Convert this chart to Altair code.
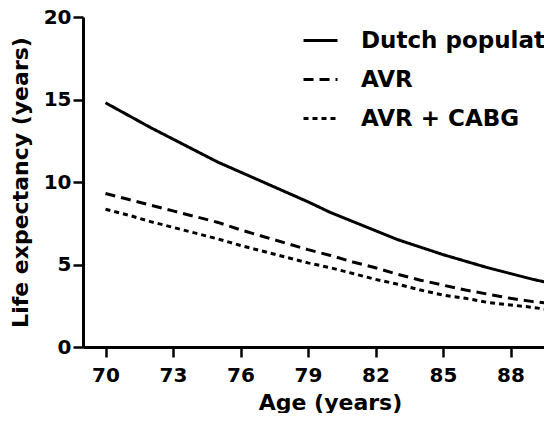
import altair as alt
import pandas as pd

ages = [70, 71, 72, 73, 74, 75, 76, 77, 78, 79, 80, 81, 82, 83, 84, 85, 86, 87, 88, 89, 90]
dutch = [14.8, 14.05, 13.3, 12.6, 11.9, 11.2, 10.6, 10.0, 9.4, 8.8, 8.15, 7.6, 7.05, 6.5, 6.05, 5.6, 5.2, 4.8, 4.45, 4.1, 3.8]
avr = [9.3, 8.95, 8.6, 8.25, 7.9, 7.55, 7.1, 6.7, 6.3, 5.9, 5.55, 5.15, 4.8, 4.4, 4.05, 3.75, 3.45, 3.2, 2.95, 2.75, 2.6]
avr_cabg = [8.35, 8.0, 7.6, 7.25, 6.9, 6.55, 6.15, 5.8, 5.45, 5.1, 4.8, 4.45, 4.1, 3.8, 3.45, 3.15, 2.95, 2.7, 2.55, 2.4, 2.2]

series_names = ["Dutch population", "AVR", "AVR + CABG"]
x_ticks = [70, 73, 76, 79, 82, 85, 88]
y_ticks = [0, 5, 10, 15, 20]

rows = []
for name, vals in zip(series_names, [dutch, avr, avr_cabg]):
    for a, v in zip(ages, vals):
        rows.append({"age": a, "le": v, "series": name})
df = pd.DataFrame(rows)

FONT = "DejaVu Sans"

chart = (
    alt.Chart(df)
    .mark_line(color="black", strokeWidth=3, clip=True)
    .encode(
        x=alt.X(
            "age:Q",
            scale=alt.Scale(domain=[69, 91], range=[0, 495], nice=False, zero=False),
            axis=alt.Axis(
                values=x_ticks,
                title="Age (years)",
                titleX=247,
                titleY=62,
                titleBaseline="alphabetic",
                titleAlign="center",
            ),
        ),
        y=alt.Y(
            "le:Q",
            scale=alt.Scale(domain=[0, 20], nice=False),
            axis=alt.Axis(
                values=y_ticks,
                title="Life expectancy (years)",
                titleX=-56,
                titleY=165,
                titleAngle=270,
                titleBaseline="alphabetic",
                titleAlign="center",
            ),
        ),
        strokeDash=alt.StrokeDash(
            "series:N",
            sort=series_names,
            scale=alt.Scale(domain=series_names, range=[[1, 0], [10, 6], [5, 4]]),
            legend=alt.Legend(
                title=None,
                orient="none",
                legendX=219,
                legendY=5,
                symbolType="stroke",
                symbolSize=1156,
                symbolStrokeWidth=3,
                symbolStrokeColor="black",
                labelFont=FONT,
                labelFontSize=23,
                labelFontWeight="bold",
                labelColor="black",
                labelOffset=22,
                rowPadding=8,
                padding=0,
                labelLimit=1000,
            ),
        ),
    )
    .properties(
        width=461,
        height=330,
        autosize=alt.AutoSizeParams(type="none"),
        padding={"left": 75, "top": 9, "right": 0, "bottom": 66},
        background="white",
    )
    .configure_view(stroke=None)
    .configure_axis(
        grid=False,
        domainColor="black",
        domainWidth=3,
        tickColor="black",
        tickWidth=2.5,
        tickSize=10,
        labelFont=FONT,
        labelFontSize=20,
        labelFontWeight="bold",
        labelColor="black",
        titleFont=FONT,
        titleFontSize=22,
        titleFontWeight="bold",
        titleColor="black",
        labelFlush=False,
        labelOverlap=False,
    )
    .configure_axisX(labelPadding=8)
    .configure_axisY(labelPadding=2)
)

chart.save("out.html", embed_options={"renderer": "svg", "actions": False})
